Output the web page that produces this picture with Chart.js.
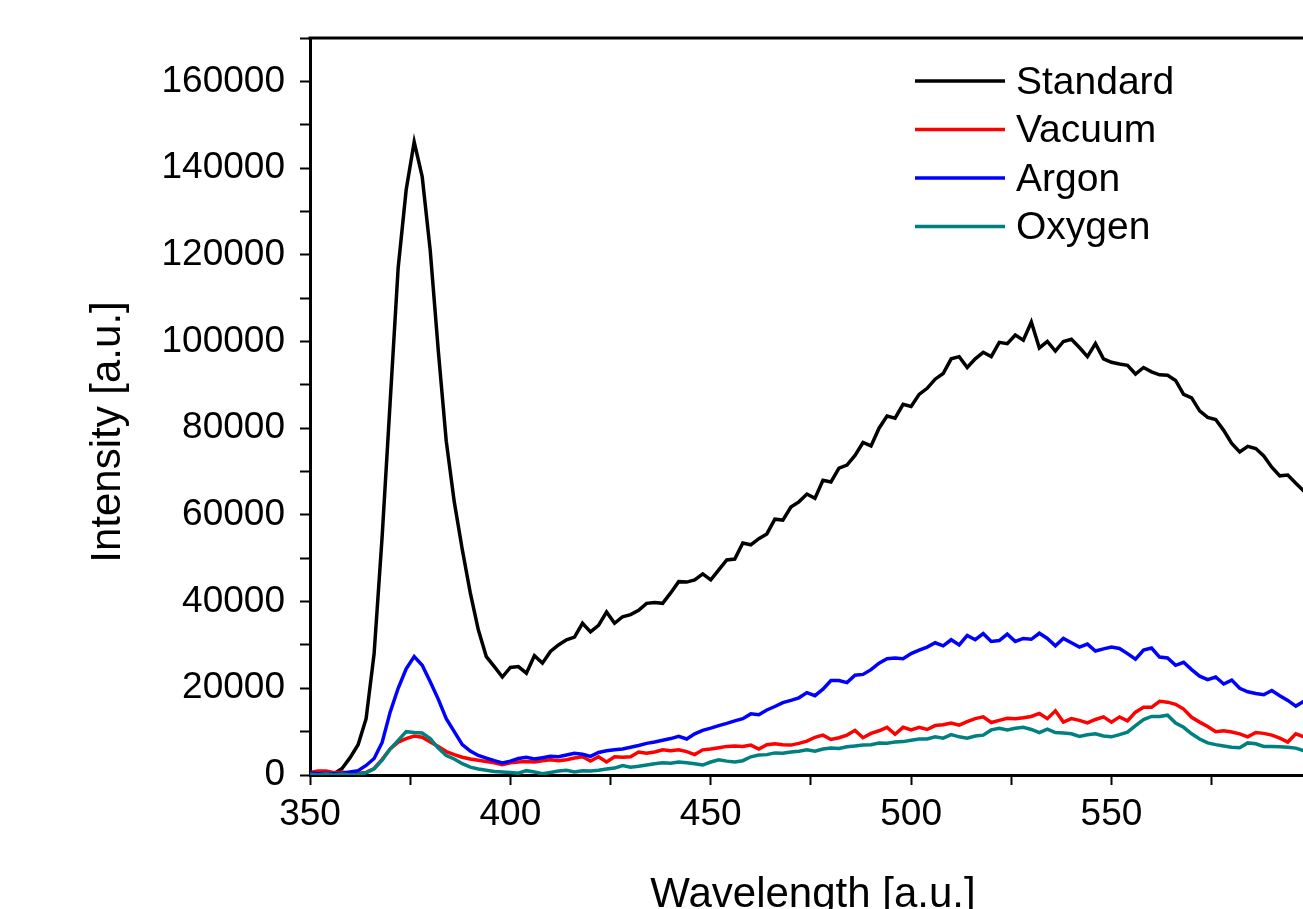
<!DOCTYPE html>
<html>
<head>
<meta charset="utf-8">
<script src="https://cdn.jsdelivr.net/npm/chart.js@4.4.0/dist/chart.umd.min.js"></script>
<style>
  html, body { margin: 0; padding: 0; background: #fff; overflow: hidden; }
  canvas { display: block; }
</style>
</head>
<body>
<canvas id="spectraChart" width="1400" height="960"></canvas>
<script>
// wavelength grid (nm)
const wavelengths = [
  350, 352, 354, 356, 358, 360, 362, 364, 366, 368,
  370, 372, 374, 376, 378, 380, 382, 384, 386, 388,
  390, 392, 394, 396, 398, 400, 402, 404, 406, 408,
  410, 412, 414, 416, 418, 420, 422, 424, 426, 428,
  430, 432, 434, 436, 438, 440, 442, 444, 446, 448,
  450, 452, 454, 456, 458, 460, 462, 464, 466, 468,
  470, 472, 474, 476, 478, 480, 482, 484, 486, 488,
  490, 492, 494, 496, 498, 500, 502, 504, 506, 508,
  510, 512, 514, 516, 518, 520, 522, 524, 526, 528,
  530, 532, 534, 536, 538, 540, 542, 544, 546, 548,
  550, 552, 554, 556, 558, 560, 562, 564, 566, 568,
  570, 572, 574, 576, 578, 580, 582, 584, 586, 588,
  590, 592, 594, 596, 598, 600
];

const standardData = [
  0, 200, 0, 300, 1500, 4000, 7000, 13000, 28000, 55000,
  86000, 117000, 135000, 146000, 138000, 121000, 98000, 77000, 63000, 52000,
  42000, 33500, 27300, 25000, 22600, 24800, 25000, 23500, 27500, 25800,
  28500, 30000, 31200, 31800, 35000, 33000, 34500, 37600, 35000, 36500,
  37000, 38000, 39600, 39800, 39600, 42000, 44600, 44500, 45000, 46400,
  45000, 47300, 49600, 49800, 53500, 53100, 54500, 55600, 59000, 58800,
  61800, 63000, 64800, 63800, 68000, 67600, 70800, 71500, 73700, 76700,
  75900, 80000, 82800, 82300, 85500, 85000, 87800, 89200, 91300, 92600,
  96000, 96500, 94000, 96000, 97500, 96500, 99800, 99500, 101500, 100300,
  104500, 98500, 100000, 97800, 100000, 100500, 98600, 96500, 99500, 96000,
  95200, 94800, 94500, 92500, 94000, 93000, 92300, 92200, 91000, 87800,
  87000, 84000, 82500, 82000, 79500, 76500, 74500, 75800, 75300, 73600,
  71000, 69000, 69200, 67300, 65500, 64500
];

const vacuumData = [
  600, 900, 900, 500, 700, 400, 400, 600, 1500, 3600,
  6000, 7600, 8400, 9000, 8700, 7600, 6600, 5400, 4700, 4100,
  3700, 3400, 3100, 2800, 2400, 2800, 3000, 3100, 3000, 3300,
  3500, 3300, 3500, 3900, 4200, 3200, 4200, 3000, 4200, 4100,
  4200, 5300, 5000, 5300, 5800, 5600, 5800, 5400, 4700, 5800,
  6000, 6300, 6600, 6700, 6600, 6900, 6000, 7000, 7200, 7000,
  6900, 7300, 7800, 8700, 9200, 8200, 8600, 9200, 10300, 8600,
  9600, 10200, 11000, 9400, 11000, 10400, 11000, 10500, 11400, 11600,
  12000, 11500, 12300, 13000, 13400, 12100, 12600, 13100, 13000, 13200,
  13500, 14200, 13000, 14800, 12200, 13000, 12600, 12000, 12800, 13400,
  12200, 13400, 12500, 14500, 15600, 15600, 17000, 16800, 16300, 15200,
  13300, 12200, 11200, 10000, 10200, 9900, 9500, 8800, 9800, 9600,
  9200, 8500, 7600, 9500, 8800, 8500
];

const argonData = [
  500, 300, 400, 300, 400, 700, 1000, 2200, 3800, 7500,
  14500, 20000, 24500, 27300, 25300, 21500, 17500, 13000, 10000, 7000,
  5500, 4500, 3900, 3300, 2800, 3200, 3800, 4100, 3700, 4000,
  4300, 4200, 4600, 5000, 4800, 4300, 5200, 5600, 5800, 6000,
  6400, 6800, 7300, 7600, 8000, 8400, 8900, 8300, 9500, 10300,
  10800, 11400, 11900, 12500, 13000, 14100, 13900, 15000, 15800, 16700,
  17200, 17800, 19000, 18300, 19800, 21800, 21800, 21300, 23000, 23200,
  24300, 25800, 26800, 27000, 26800, 28000, 28800, 29500, 30500, 29800,
  31200, 30000, 32200, 31200, 32600, 30800, 31000, 32500, 30800, 31500,
  31300, 32700, 31500, 29800, 31500, 30500, 29500, 30200, 28600, 29100,
  29500, 29200, 28000, 26700, 28800, 29300, 27200, 27000, 25300, 26000,
  24300, 22800, 22000, 22600, 21000, 21900, 20000, 19200, 18800, 18500,
  19500, 18300, 17200, 15900, 17000, 16500
];

const oxygenData = [
  200, 0, 300, 0, 200, 0, 100, 500, 1400, 3400,
  6000, 8000, 10000, 9800, 9700, 8400, 6200, 4500, 3700, 2600,
  1800, 1400, 1100, 800, 700, 600, 400, 1000, 700, 300,
  600, 900, 1100, 700, 1000, 900, 1100, 1400, 1600, 2200,
  1800, 2000, 2300, 2600, 2800, 2700, 3000, 2800, 2600, 2300,
  3000, 3500, 3200, 3000, 3300, 4200, 4600, 4700, 5100, 5000,
  5300, 5500, 5800, 5500, 6000, 6200, 6100, 6500, 6700, 6900,
  7000, 7400, 7300, 7600, 7700, 8000, 8300, 8300, 8800, 8500,
  9300, 8800, 8500, 9000, 9200, 10400, 10800, 10400, 10800, 11000,
  10500, 9800, 10600, 9800, 9700, 9500, 8900, 9300, 9500, 9000,
  8800, 9300, 9900, 11400, 12800, 13500, 13500, 13800, 12000, 11000,
  9500, 8300, 7400, 7000, 6700, 6400, 6300, 7400, 7200, 6600,
  6600, 6500, 6400, 6200, 5600, 5500
];

const seriesNames = ['Standard', 'Vacuum', 'Argon', 'Oxygen'];
const seriesValues = [standardData, vacuumData, argonData, oxygenData];
const seriesColors = ['#000000', '#ff0000', '#0000ff', '#008080'];

const xTickLabels = [350, 400, 450, 500, 550, 600];
const yTickLabels = [0, 20000, 40000, 60000, 80000, 100000, 120000, 140000, 160000];
const xTitle = 'Wavelength [a.u.]';
const yTitle = 'Intensity [a.u.]';

const fontFamily = "'Liberation Sans', Arial, Helvetica, sans-serif";

function toPoints(values) {
  return values.map((v, i) => ({ x: wavelengths[i], y: v }));
}

// legend drawn inside the plot, top right
const insideLegend = {
  id: 'insideLegend',
  afterDraw(chart) {
    const ctx = chart.ctx;
    ctx.save();
    ctx.font = '39px ' + fontFamily;
    ctx.textBaseline = 'middle';
    ctx.fillStyle = '#000';
    ctx.lineWidth = 3.5;
    for (let i = 0; i < seriesNames.length; i++) {
      let y = 81 + i * 48.5;
      ctx.strokeStyle = seriesColors[i];
      ctx.beginPath();
      ctx.moveTo(915, y);
      ctx.lineTo(1005, y);
      ctx.stroke();
      ctx.fillText(seriesNames[i], 1016, y + 2);
    }
    ctx.restore();
  }
};

// top/right frame lines and the two axis titles
const frameAndTitles = {
  id: 'frameAndTitles',
  afterDraw(chart) {
    const a = chart.chartArea;
    const ctx = chart.ctx;
    ctx.save();
    ctx.strokeStyle = '#000';
    ctx.lineWidth = 3;
    ctx.beginPath();
    ctx.moveTo(a.left - 1.5, a.top);
    ctx.lineTo(a.right, a.top);
    ctx.lineTo(a.right, a.bottom);
    ctx.stroke();

    ctx.fillStyle = '#000';
    ctx.font = '42px ' + fontFamily;
    ctx.textAlign = 'center';
    ctx.textBaseline = 'alphabetic';
    ctx.fillText(xTitle, 813, 907);

    ctx.translate(120, 432);
    ctx.rotate(-Math.PI / 2);
    ctx.fillText(yTitle, 0, 0);
    ctx.restore();
  }
};

let datasets = [];
for (let i = 0; i < seriesNames.length; i++) {
  datasets.push({
    label: seriesNames[i],
    data: toPoints(seriesValues[i]),
    borderColor: seriesColors[i],
    backgroundColor: seriesColors[i],
    borderWidth: 3.5,
    pointRadius: 0,
    tension: 0,
    fill: false,
    order: seriesNames.length - i
  });
}

let spectraCtx = document.getElementById('spectraChart').getContext('2d');
let spectraChart = new Chart(spectraCtx, {
  type: 'line',
  data: { datasets: datasets },
  options: {
    responsive: false,
    animation: false,
    devicePixelRatio: 1,
    layout: { padding: { left: 0, top: 38, right: 6, bottom: 0 } },
    plugins: {
      legend: { display: false },
      tooltip: { enabled: false }
    },
    scales: {
      x: {
        type: 'linear',
        position: 'bottom',
        min: 350,
        max: 620,
        afterFit: (s) => { s.height = 185; },
        border: { color: '#000', width: 3 },
        grid: { drawOnChartArea: false, drawTicks: true, tickLength: 10, tickWidth: 2, tickColor: '#000' },
        ticks: {
          stepSize: 25,
          autoSkip: false,
          maxRotation: 0,
          padding: 8,
          color: '#000',
          font: { family: fontFamily, size: 37, lineHeight: 1.2 },
          callback: (v) => xTickLabels.includes(v) ? String(v) : ''
        }
      },
      y: {
        type: 'linear',
        min: 0,
        max: 170000,
        afterFit: (s) => { s.width = 310; },
        border: { color: '#000', width: 3 },
        grid: { drawOnChartArea: false, drawTicks: true, tickLength: 10, tickWidth: 2, tickColor: '#000' },
        ticks: {
          stepSize: 10000,
          autoSkip: false,
          padding: 15,
          color: '#000',
          font: { family: fontFamily, size: 37, lineHeight: 1.2 },
          callback: (v) => yTickLabels.includes(v) ? String(v) : ''
        }
      }
    }
  },
  plugins: [insideLegend, frameAndTitles]
});
</script>
</body>
</html>
